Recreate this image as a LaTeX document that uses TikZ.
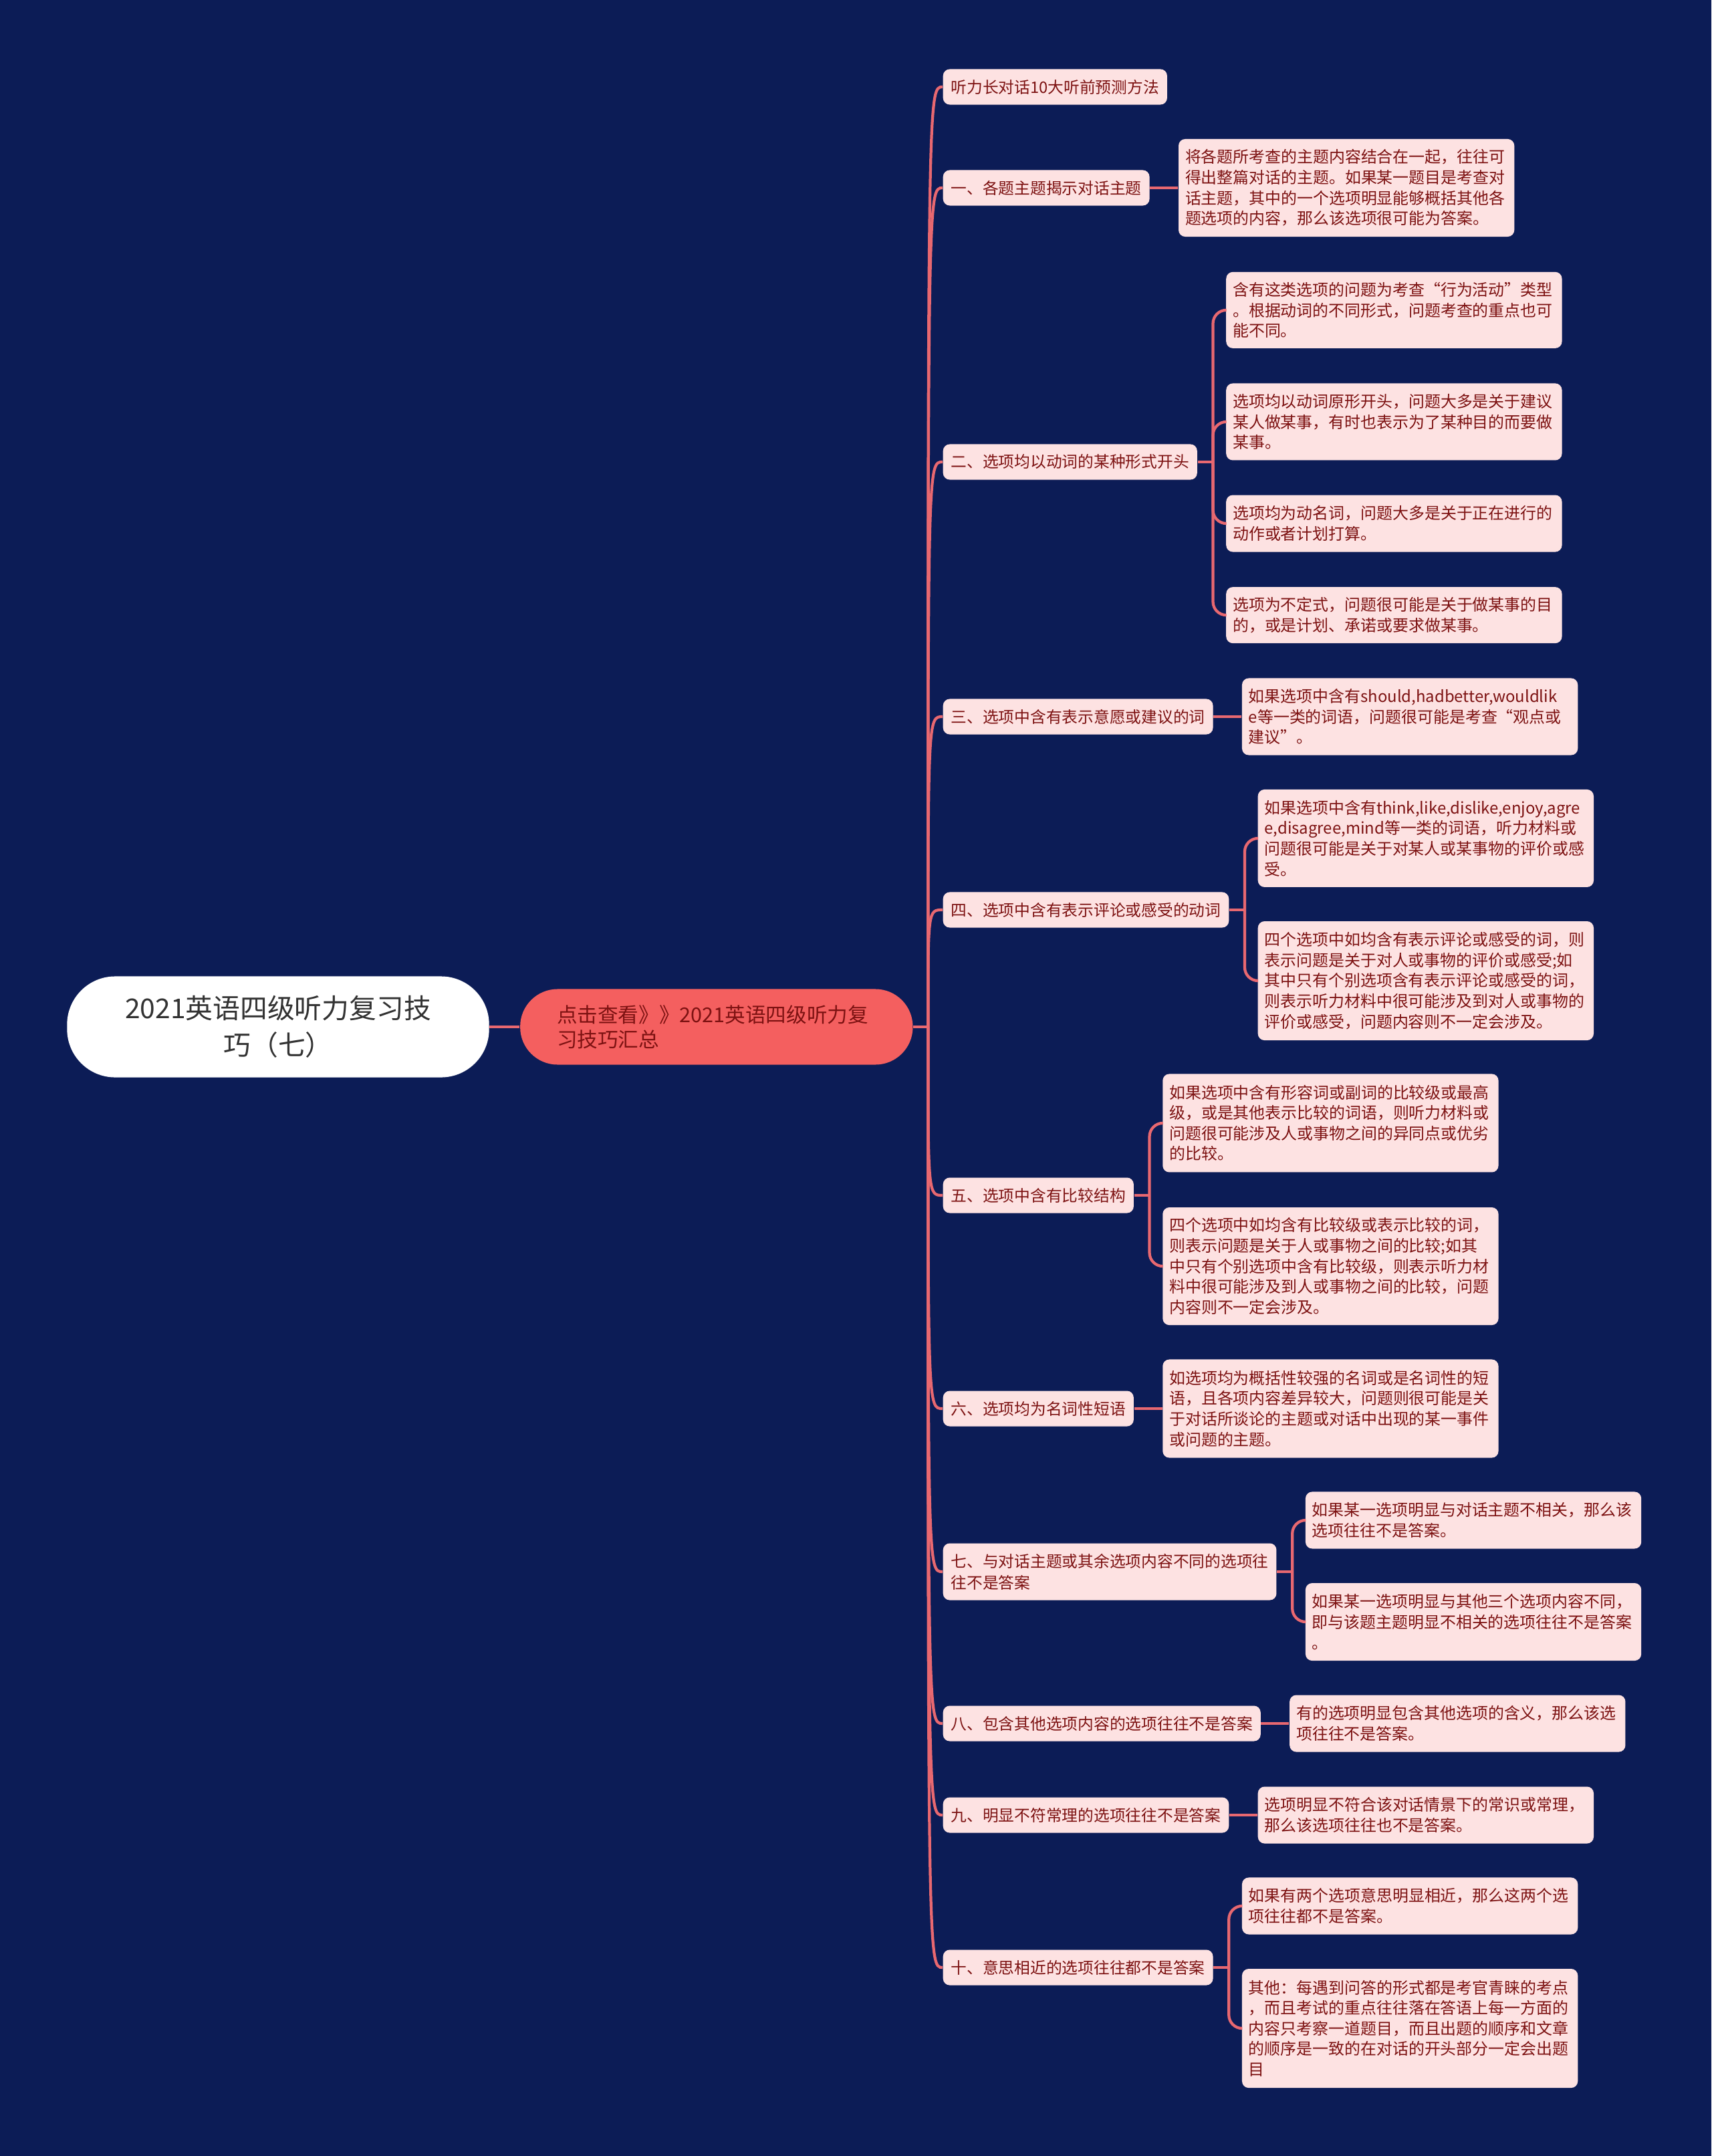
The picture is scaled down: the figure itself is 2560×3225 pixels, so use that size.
\documentclass[tikz,border=0pt]{standalone}
\usepackage{fontspec}
\setmainfont{Noto Sans CJK SC}
\usetikzlibrary{positioning}

\definecolor{bgblue}{RGB}{12,28,86}
\definecolor{linkred}{RGB}{232,104,112}
\definecolor{hubred}{RGB}{244,95,95}
\definecolor{leafpink}{RGB}{253,226,226}
\definecolor{darkred}{RGB}{125,18,18}
\definecolor{rootgray}{RGB}{51,51,51}

\tikzstyle{line} = [draw, color=linkred, line width=1.2pt]
\tikzstyle{root} = [rectangle, fill=white, text=rootgray, rounded corners=0.72cm,
  minimum width=6.31cm, minimum height=1.51cm, align=center,
  font=\fontsize{11.6pt}{15.6pt}\selectfont]
\tikzstyle{hub} = [rectangle, fill=hubred, text=darkred, rounded corners=0.56cm,
  minimum height=1.13cm, text width=4.77cm, inner xsep=0.55cm, align=left,
  font=\fontsize{8.7pt}{10.5pt}\selectfont]
\tikzstyle{topic} = [rectangle, fill=leafpink, text=darkred, rounded corners=0.1cm,
  inner xsep=0.12cm, minimum height=0.53cm, align=left, anchor=west,
  font=\fontsize{6.75pt}{9.1pt}\selectfont]
\tikzstyle{leaf} = [rectangle, fill=leafpink, text=darkred, rounded corners=0.1cm,
  inner xsep=0.1cm, inner ysep=0.05cm, text width=4.82cm, align=left,
  font=\fontsize{6.8pt}{8.7pt}\selectfont]

\begin{document}
\begin{tikzpicture}[x=0.01cm, y=-0.01cm, node distance=0.42cm]
  \fill [bgblue] (0,0) rectangle (2560,3225);

  \node [root] (title) at (416,1536) {2021英语四级听力复习技\\巧（七）};
  \node [hub, right=0.45cm of title] (hub) {点击查看》》2021英语四级听力复\\习技巧汇总};

  \node [topic] (b0) at (1410,130) {听力长对话10大听前预测方法};
  \node [topic] (b1) at (1410,281) {一、各题主题揭示对话主题};
  \node [topic] (b2) at (1410,691) {二、选项均以动词的某种形式开头};
  \node [topic] (b3) at (1410,1072) {三、选项中含有表示意愿或建议的词};
  \node [topic] (b4) at (1410,1361) {四、选项中含有表示评论或感受的动词};
  \node [topic] (b5) at (1410,1788) {五、选项中含有比较结构};
  \node [topic] (b6) at (1410,2107) {六、选项均为名词性短语};
  \node [topic, minimum height=0.85cm] (b7) at (1410,2351) {七、与对话主题或其余选项内容不同的选项往\\往不是答案};
  \node [topic] (b8) at (1410,2578) {八、包含其他选项内容的选项往往不是答案};
  \node [topic] (b9) at (1410,2715) {九、明显不符常理的选项往往不是答案};
  \node [topic] (b10) at (1410,2943) {十、意思相近的选项往往都不是答案};

  \node [leaf, right=of b1, minimum height=1.46cm] (c1) {将各题所考查的主题内容结合在一起，往往可\\得出整篇对话的主题。如果某一题目是考查对\\话主题，其中的一个选项明显能够概括其他各\\题选项的内容，那么该选项很可能为答案。};

  \node [leaf, right=of b2, yshift=2.27cm, minimum height=1.14cm] (c2a) {含有这类选项的问题为考查“行为活动”类型\\。根据动词的不同形式，问题考查的重点也可\\能不同。};
  \node [leaf, right=of b2, yshift=0.60cm, minimum height=1.15cm] (c2b) {选项均以动词原形开头，问题大多是关于建议\\某人做某事，有时也表示为了某种目的而要做\\某事。};
  \node [leaf, right=of b2, yshift=-0.92cm, minimum height=0.85cm] (c2c) {选项均为动名词，问题大多是关于正在进行的\\动作或者计划打算。};
  \node [leaf, right=of b2, yshift=-2.29cm, minimum height=0.84cm] (c2d) {选项为不定式，问题很可能是关于做某事的目\\的，或是计划、承诺或要求做某事。};

  \node [leaf, right=of b3, minimum height=1.15cm] (c3) {如果选项中含有should,hadbetter,wouldlik\\e等一类的词语，问题很可能是考查“观点或\\建议”。};

  \node [leaf, right=of b4, yshift=1.07cm, minimum height=1.46cm] (c4a) {如果选项中含有think,like,dislike,enjoy,agre\\e,disagree,mind等一类的词语，听力材料或\\问题很可能是关于对某人或某事物的评价或感\\受。};
  \node [leaf, right=of b4, yshift=-1.06cm, minimum height=1.78cm] (c4b) {四个选项中如均含有表示评论或感受的词，则\\表示问题是关于对人或事物的评价或感受;如\\其中只有个别选项含有表示评论或感受的词，\\则表示听力材料中很可能涉及到对人或事物的\\评价或感受，问题内容则不一定会涉及。};

  \node [leaf, right=of b5, yshift=1.08cm, minimum height=1.47cm] (c5a) {如果选项中含有形容词或副词的比较级或最高\\级，或是其他表示比较的词语，则听力材料或\\问题很可能涉及人或事物之间的异同点或优劣\\的比较。};
  \node [leaf, right=of b5, yshift=-1.06cm, minimum height=1.76cm] (c5b) {四个选项中如均含有比较级或表示比较的词，\\则表示问题是关于人或事物之间的比较;如其\\中只有个别选项中含有比较级，则表示听力材\\料中很可能涉及到人或事物之间的比较，问题\\内容则不一定会涉及。};

  \node [leaf, right=of b6, minimum height=1.47cm] (c6) {如选项均为概括性较强的名词或是名词性的短\\语，且各项内容差异较大，问题则很可能是关\\于对话所谈论的主题或对话中出现的某一事件\\或问题的主题。};

  \node [leaf, right=of b7, yshift=0.77cm, minimum height=0.85cm] (c7a) {如果某一选项明显与对话主题不相关，那么该\\选项往往不是答案。};
  \node [leaf, right=of b7, yshift=-0.75cm, minimum height=1.16cm] (c7b) {如果某一选项明显与其他三个选项内容不同，\\即与该题主题明显不相关的选项往往不是答案\\。};

  \node [leaf, right=of b8, minimum height=0.85cm] (c8) {有的选项明显包含其他选项的含义，那么该选\\项往往不是答案。};
  \node [leaf, right=of b9, minimum height=0.85cm] (c9) {选项明显不符合该对话情景下的常识或常理，\\那么该选项往往也不是答案。};

  \node [leaf, right=of b10, yshift=0.92cm, minimum height=0.85cm] (c10a) {如果有两个选项意思明显相近，那么这两个选\\项往往都不是答案。};
  \node [leaf, right=of b10, yshift=-0.91cm, minimum height=1.78cm] (c10b) {其他：每遇到问答的形式都是考官青睐的考点\\，而且考试的重点往往落在答语上每一方面的\\内容只考察一道题目，而且出题的顺序和文章\\的顺序是一致的在对话的开头部分一定会出题\\目};

  % root to hub, hub to the trunk
  \path [line] (title) -- (hub);
  \path [line] (hub.east) -- ++(0.22cm,0) coordinate (trunk);

  \path [line] (trunk) .. controls (trunk |- b0.west) .. (b0.west);
  \path [line] (trunk) .. controls (trunk |- b1.west) .. (b1.west);
  \path [line] (trunk) .. controls (trunk |- b2.west) .. (b2.west);
  \path [line] (trunk) .. controls (trunk |- b3.west) .. (b3.west);
  \path [line] (trunk) .. controls (trunk |- b4.west) .. (b4.west);
  \path [line] (trunk) .. controls (trunk |- b5.west) .. (b5.west);
  \path [line] (trunk) .. controls (trunk |- b6.west) .. (b6.west);
  \path [line] (trunk) .. controls (trunk |- b7.west) .. (b7.west);
  \path [line] (trunk) .. controls (trunk |- b8.west) .. (b8.west);
  \path [line] (trunk) .. controls (trunk |- b9.west) .. (b9.west);
  \path [line] (trunk) .. controls (trunk |- b10.west) .. (b10.west);

  % topics to details
  \path [line] (b1) -- (c1);
  \path [line] (b3) -- (c3);
  \path [line] (b6) -- (c6);
  \path [line] (b8) -- (c8);
  \path [line] (b9) -- (c9);

  \path [line] (b2.east) -- ++(0.23cm,0) coordinate (j2);
  \path [line, rounded corners=0.2cm] (j2) |- (c2a.west);
  \path [line, rounded corners=0.2cm] (j2) |- (c2b.west);
  \path [line, rounded corners=0.2cm] (j2) |- (c2c.west);
  \path [line, rounded corners=0.2cm] (j2) |- (c2d.west);

  \path [line] (b4.east) -- ++(0.23cm,0) coordinate (j4);
  \path [line, rounded corners=0.2cm] (j4) |- (c4a.west);
  \path [line, rounded corners=0.2cm] (j4) |- (c4b.west);

  \path [line] (b5.east) -- ++(0.23cm,0) coordinate (j5);
  \path [line, rounded corners=0.2cm] (j5) |- (c5a.west);
  \path [line, rounded corners=0.2cm] (j5) |- (c5b.west);

  \path [line] (b7.east) -- ++(0.23cm,0) coordinate (j7);
  \path [line, rounded corners=0.2cm] (j7) |- (c7a.west);
  \path [line, rounded corners=0.2cm] (j7) |- (c7b.west);

  \path [line] (b10.east) -- ++(0.23cm,0) coordinate (j10);
  \path [line, rounded corners=0.2cm] (j10) |- (c10a.west);
  \path [line, rounded corners=0.2cm] (j10) |- (c10b.west);

\end{tikzpicture}
\end{document}
